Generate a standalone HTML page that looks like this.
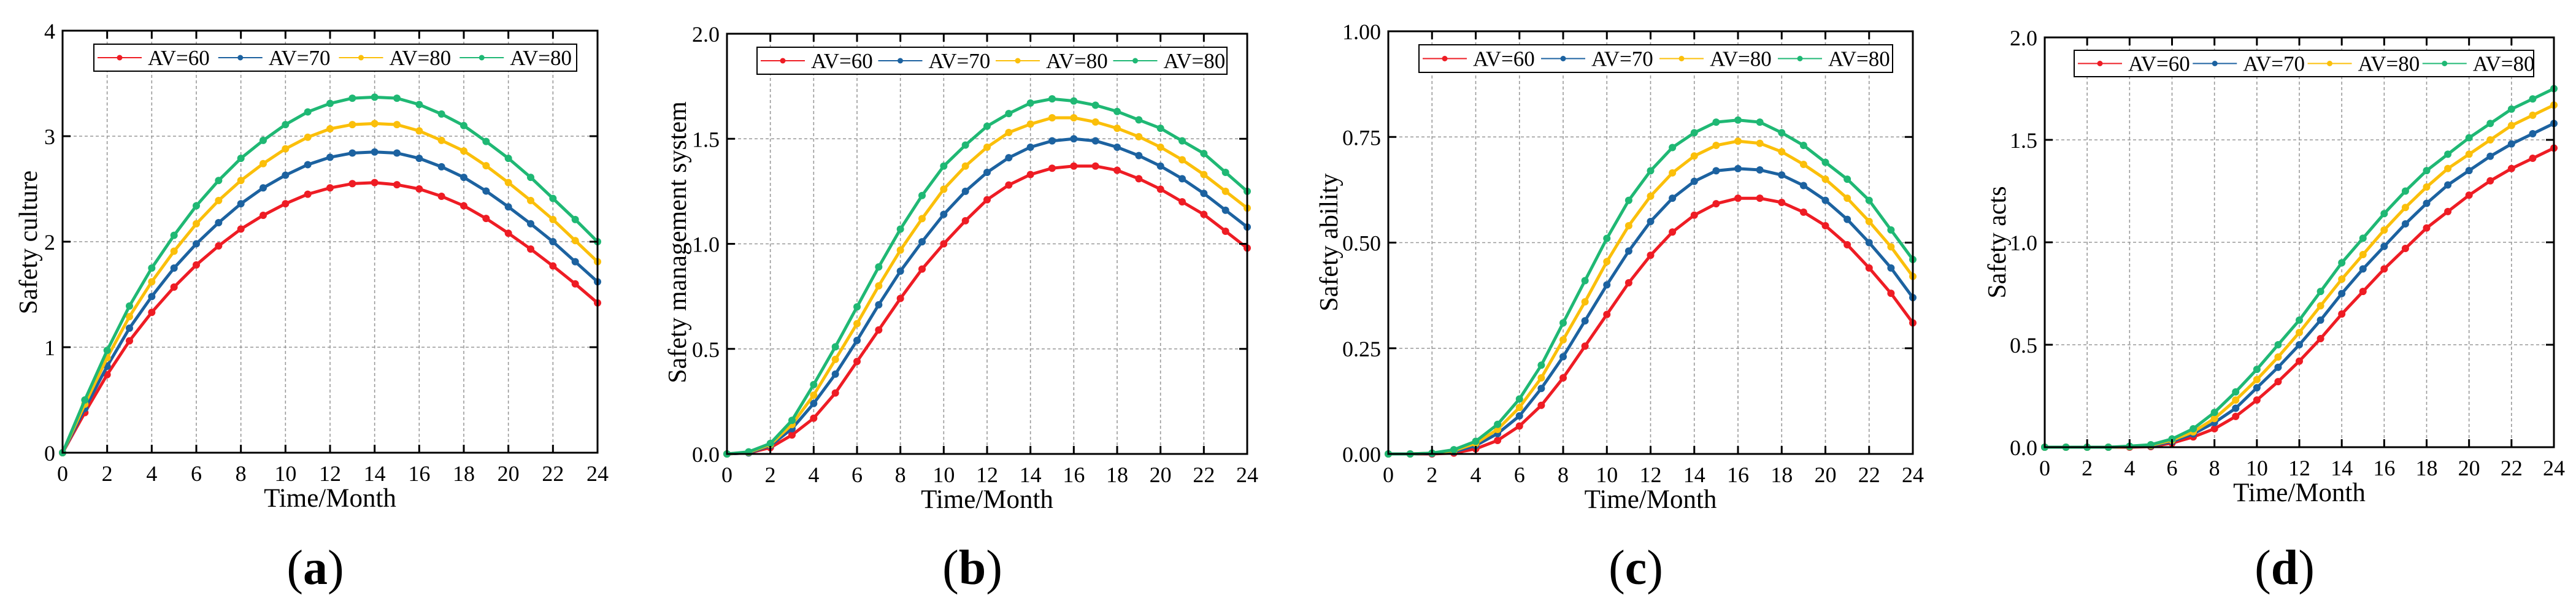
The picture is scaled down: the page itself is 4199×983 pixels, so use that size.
<!DOCTYPE html>
<html><head><meta charset="utf-8"><style>
html,body{margin:0;padding:0;background:#fff;}
svg{display:block;font-family:"Liberation Serif",serif;}
</style></head><body>
<svg id="fig" width="4199" height="983" viewBox="0 0 4199 983" xmlns="http://www.w3.org/2000/svg"></svg>
<script>
const months = [0,1,2,3,4,5,6,7,8,9,10,11,12,13,14,15,16,17,18,19,20,21,22,23,24];
const seriesNames = ["AV=60","AV=70","AV=80","AV=80"];
const xTicks = [0,2,4,6,8,10,12,14,16,18,20,22,24];

const cultureAV60 = [0,0.38,0.74,1.06,1.33,1.57,1.78,1.96,2.12,2.25,2.36,2.45,2.51,2.55,2.56,2.54,2.50,2.43,2.34,2.22,2.08,1.93,1.77,1.60,1.42];
const cultureAV70 = [0,0.42,0.82,1.18,1.48,1.75,1.98,2.18,2.36,2.51,2.63,2.73,2.80,2.84,2.85,2.84,2.79,2.71,2.61,2.48,2.33,2.17,2.00,1.81,1.62];
const cultureAV80a = [0,0.46,0.90,1.29,1.62,1.91,2.17,2.39,2.58,2.74,2.88,2.99,3.07,3.11,3.12,3.11,3.05,2.96,2.86,2.72,2.56,2.39,2.21,2.01,1.81];
const cultureAV80b = [0,0.50,0.97,1.39,1.75,2.06,2.34,2.58,2.79,2.96,3.11,3.23,3.31,3.36,3.37,3.36,3.30,3.21,3.10,2.95,2.79,2.61,2.41,2.21,2.00];
const cultureTicks = [0,1,2,3,4];

const smsAV60 = [0,0.005,0.03,0.09,0.17,0.29,0.44,0.59,0.74,0.88,1.00,1.11,1.21,1.28,1.33,1.36,1.37,1.37,1.35,1.31,1.26,1.20,1.14,1.06,0.98];
const smsAV70 = [0,0.005,0.04,0.12,0.24,0.38,0.54,0.71,0.87,1.01,1.14,1.25,1.34,1.41,1.46,1.49,1.50,1.49,1.46,1.42,1.37,1.31,1.24,1.16,1.08];
const smsAV80a = [0,0.008,0.045,0.14,0.28,0.45,0.62,0.80,0.97,1.12,1.26,1.37,1.46,1.53,1.57,1.60,1.60,1.58,1.55,1.51,1.46,1.40,1.33,1.25,1.17];
const smsAV80b = [0,0.01,0.05,0.16,0.33,0.51,0.70,0.89,1.07,1.23,1.37,1.47,1.56,1.62,1.67,1.69,1.68,1.66,1.63,1.59,1.55,1.49,1.43,1.34,1.25];
const smsTicks = [0,0.5,1.0,1.5,2.0];

const abilityAV60 = [0,0,0,0.002,0.012,0.032,0.066,0.115,0.18,0.255,0.33,0.405,0.47,0.525,0.565,0.592,0.605,0.605,0.595,0.572,0.54,0.495,0.44,0.38,0.31];
const abilityAV70 = [0,0,0.001,0.005,0.02,0.048,0.09,0.155,0.23,0.315,0.40,0.48,0.55,0.605,0.645,0.67,0.675,0.672,0.66,0.635,0.60,0.555,0.50,0.44,0.37];
const abilityAV80a = [0,0,0.002,0.008,0.025,0.058,0.11,0.18,0.27,0.36,0.455,0.54,0.61,0.665,0.705,0.73,0.74,0.735,0.715,0.685,0.65,0.605,0.55,0.49,0.42];
const abilityAV80b = [0,0,0.002,0.01,0.03,0.07,0.13,0.21,0.31,0.41,0.51,0.60,0.67,0.725,0.76,0.785,0.79,0.785,0.76,0.73,0.69,0.65,0.60,0.53,0.46];
const abilityTicks = [0,0.25,0.5,0.75,1.0];

const actsAV60 = [0,0,0,0,0,0.003,0.02,0.05,0.09,0.15,0.23,0.32,0.42,0.53,0.65,0.76,0.87,0.97,1.07,1.15,1.23,1.30,1.36,1.41,1.46];
const actsAV70 = [0,0,0,0,0.002,0.006,0.028,0.065,0.12,0.19,0.29,0.39,0.50,0.62,0.75,0.87,0.98,1.09,1.19,1.28,1.35,1.42,1.48,1.53,1.58];
const actsAV80a = [0,0,0,0,0.003,0.009,0.034,0.075,0.14,0.23,0.33,0.44,0.56,0.69,0.82,0.94,1.06,1.17,1.27,1.36,1.43,1.50,1.57,1.62,1.67];
const actsAV80b = [0,0,0,0,0.005,0.012,0.04,0.09,0.17,0.27,0.38,0.50,0.62,0.76,0.90,1.02,1.14,1.25,1.35,1.43,1.51,1.58,1.65,1.70,1.75];
const actsTicks = [0,0.5,1.0,1.5,2.0];

const colors = ["#ee1c24","#1c62a0","#fbbf0a","#1fb874"];
const NS = "http://www.w3.org/2000/svg";
const svg = document.getElementById("fig");
function mk(tag, attrs, parent, text){
  const e = document.createElementNS(NS, tag);
  for (const k in attrs) e.setAttribute(k, attrs[k]);
  if (text !== undefined) e.textContent = text;
  (parent || svg).appendChild(e);
  return e;
}

const panels = [
  {id:"a", title:"Safety culture", L:102, R:974, T:50, B:738, ymax:4, ticks:cultureTicks, dec:0, series:[cultureAV60,cultureAV70,cultureAV80a,cultureAV80b], leg:[153,72,787,44], ytx:46},
  {id:"b", title:"Safety management system", L:1185, R:2033, T:55, B:740, ymax:2, ticks:smsTicks, dec:1, series:[smsAV60,smsAV70,smsAV80a,smsAV80b], leg:[1234,77,766,44], ytx:1104},
  {id:"c", title:"Safety ability", L:2263, R:3118, T:51, B:740, ymax:1, ticks:abilityTicks, dec:2, series:[abilityAV60,abilityAV70,abilityAV80a,abilityAV80b], leg:[2313,73,772,45], ytx:2166},
  {id:"d", title:"Safety acts", L:3333, R:4163, T:61, B:729, ymax:2, ticks:actsTicks, dec:1, series:[actsAV60,actsAV70,actsAV80a,actsAV80b], leg:[3381,82,749,43], ytx:3255}
];

panels.forEach(p => {
  const g = mk("g", {});
  
  
  const xs = v => p.L + (v/24)*(p.R-p.L);
  const ys = v => p.B - (v/p.ymax)*(p.B-p.T);
  // grid
  xTicks.forEach(t => {
    if (t===0 || t===24) return;
    const l = mk("line", {x1:xs(t),x2:xs(t),y1:p.T,y2:p.B,stroke:"#999","stroke-width":1.6,"stroke-dasharray":"5,4"}, g);
    
    
  });
  p.ticks.forEach(t => {
    if (t===0 || t===p.ymax) return;
    const l = mk("line", {x1:p.L,x2:p.R,y1:ys(t),y2:ys(t),stroke:"#999","stroke-width":1.6,"stroke-dasharray":"5,4"}, g);
    
    
  });
  // series
  p.series.forEach((s, si) => {
    const sg = mk("g", {}, g);
    
    
    const pts = s.map((v,i) => xs(months[i]).toFixed(1) + "," + ys(v).toFixed(1)).join(" ");
    mk("polyline", {points:pts, fill:"none", stroke:colors[si], "stroke-width":5, "stroke-linejoin":"round"}, sg);
    s.forEach((v,i) => {
      const c = mk("circle", {cx:xs(months[i]), cy:ys(v), r:6, fill:colors[si]}, sg);
      
      
    });
  });
  // frame
  const fr = mk("rect", {x:p.L,y:p.T,width:p.R-p.L,height:p.B-p.T,fill:"none",stroke:"#000","stroke-width":3}, g);
  
  
  // ticks
  xTicks.forEach(t => {
    mk("line", {x1:xs(t),x2:xs(t),y1:p.B,y2:p.B-13,stroke:"#000","stroke-width":3}, g);
    mk("line", {x1:xs(t),x2:xs(t),y1:p.T,y2:p.T+13,stroke:"#000","stroke-width":3}, g);
    const tl = mk("text", {x:xs(t), y:p.B+46, "text-anchor":"middle", "font-size":36}, g, String(t));
    
    
  });
  p.ticks.forEach(t => {
    mk("line", {x1:p.L,x2:p.L+13,y1:ys(t),y2:ys(t),stroke:"#000","stroke-width":3}, g);
    mk("line", {x1:p.R,x2:p.R-13,y1:ys(t),y2:ys(t),stroke:"#000","stroke-width":3}, g);
    const tl = mk("text", {x:p.L-12, y:ys(t)+13, "text-anchor":"end", "font-size":36}, g, t.toFixed(p.dec));
    
    
  });
  // axis titles
  const xt = mk("text", {x:(p.L+p.R)/2, y:p.B+88, "text-anchor":"middle", "font-size":43}, g, "Time/Month");
  
  
  const yt = mk("text", {x:0, y:0, "text-anchor":"middle", "font-size":42, transform:"translate(" + (p.ytx+14) + ",395) rotate(-90)"}, g, p.title);
  
  
  // legend
  const [lx, ly, lw, lh] = p.leg;
  const lg = mk("g", {}, g);
  
  
  mk("rect", {x:lx, y:ly, width:lw, height:lh, fill:"#fff", stroke:"#000", "stroke-width":2}, lg);
  const pitch = lw/4;
  seriesNames.forEach((n, i) => {
    const ex = lx + 6 + i*pitch;
    const cy = ly + lh/2;
    const eg = mk("g", {}, lg);
    
    
    mk("line", {x1:ex, x2:ex+72, y1:cy, y2:cy, stroke:colors[i], "stroke-width":2}, eg);
    mk("circle", {cx:ex+36, cy:cy, r:4.5, fill:colors[i]}, eg);
    mk("text", {x:ex+82, y:cy+12, "font-size":35}, eg, n);
  });
  // panel label
  const pl = mk("text", {x:(p.L+p.R)/2 - 24, y:952, "text-anchor":"middle", "font-size":80}, g);
  
  
  mk("tspan", {}, pl, "(");
  mk("tspan", {"font-weight":"bold"}, pl, p.id);
  mk("tspan", {}, pl, ")");
});
</script>
</body></html>
